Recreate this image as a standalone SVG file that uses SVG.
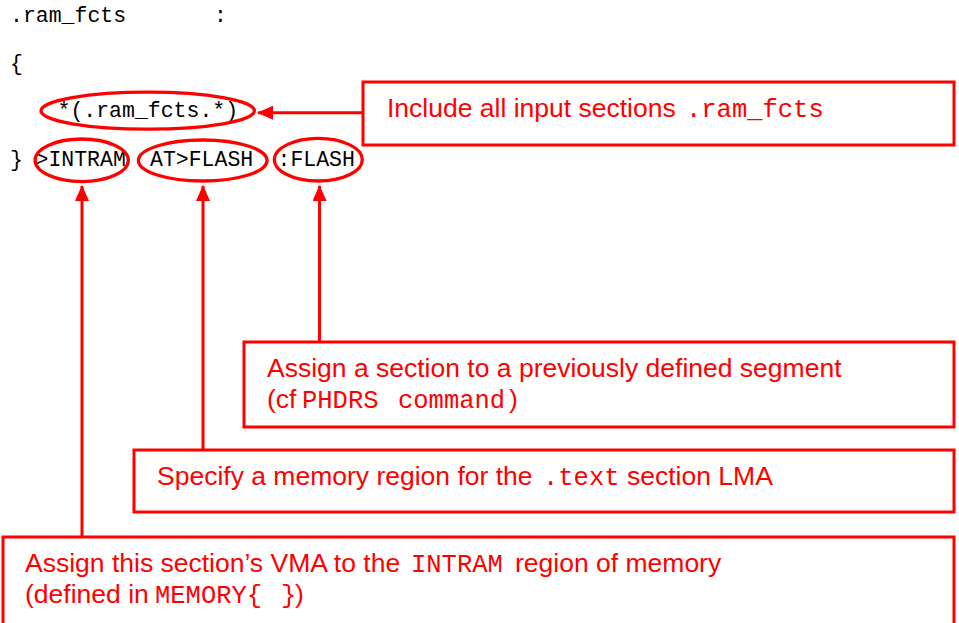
<svg xmlns="http://www.w3.org/2000/svg" width="959" height="623" viewBox="0 0 959 623">
<defs>
<style>
.code{font-family:"Liberation Mono","Courier New",monospace;font-size:21.5px;fill:#000}
.lbl{font-family:"Liberation Sans",Arial,sans-serif;font-size:26.5px;fill:#ff0000}
.mono{font-family:"Liberation Mono","Courier New",monospace;font-size:25.5px;fill:#ff0000}
.box{fill:none;stroke:#ff0000;stroke-width:3}
.ell{fill:none;stroke:#ff0000;stroke-width:3.3}
.conn{fill:none;stroke:#ff0000;stroke-width:3}
</style>
<marker id="ah" viewBox="0 0 16 14" refX="15" refY="7" markerWidth="16" markerHeight="14" markerUnits="userSpaceOnUse" orient="auto">
<path d="M0,0 L16,7 L0,14 Z" fill="#ff0000"/>
</marker>
</defs>
<rect width="959" height="623" fill="#ffffff"/>

<g id="code">
<text class="code" x="10" y="22">.ram_fcts</text>
<text class="code" x="214" y="22">:</text>
<text class="code" x="10" y="70">{</text>
<text class="code" x="57.5" y="117">*(.ram_fcts.*)</text>
<text class="code" x="10" y="166">}</text>
<text class="code" x="35.5" y="166">&gt;INTRAM</text>
<text class="code" x="150" y="166">AT&gt;FLASH</text>
<text class="code" x="277.5" y="166">:FLASH</text>
</g>

<g id="ellipses">
<ellipse id="e-input" class="ell" cx="147.7" cy="110.7" rx="106.7" ry="18.5"/>
<ellipse id="e-intram" class="ell" cx="81.7" cy="160.3" rx="46.6" ry="21.3"/>
<ellipse id="e-atflash" class="ell" cx="202.7" cy="160.5" rx="64.3" ry="20.5"/>
<ellipse id="e-flash" class="ell" cx="318.3" cy="159.7" rx="44" ry="21.3"/>
</g>

<g id="connectors">
<line class="conn" x1="363" y1="112.7" x2="258" y2="112.7" marker-end="url(#ah)"/>
<line class="conn" x1="82" y1="537" x2="82" y2="186" marker-end="url(#ah)"/>
<line class="conn" x1="203" y1="450" x2="203" y2="186" marker-end="url(#ah)"/>
<line class="conn" x1="319.5" y1="342" x2="319.5" y2="186" marker-end="url(#ah)"/>
</g>

<g id="box-include">
<rect class="box" x="363" y="82" width="591" height="63"/>
<text class="lbl" x="387" y="117">Include all input sections</text>
<text class="mono" x="686" y="117">.ram_fcts</text>
</g>

<g id="box-segment">
<rect class="box" x="244" y="342" width="710" height="85"/>
<text class="lbl" x="267" y="377">Assign a section to a previously defined segment</text>
<text class="lbl" x="267" y="408">(cf</text>
<text class="mono" x="302" y="408">PHDRS</text>
<text class="mono" x="398" y="408">command</text>
<text class="lbl" x="509" y="408">)</text>
</g>

<g id="box-lma">
<rect class="box" x="134" y="450" width="820" height="62"/>
<text class="lbl" x="157" y="485">Specify a memory region for the</text>
<text class="mono" x="543" y="485">.text</text>
<text class="lbl" x="627" y="485">section LMA</text>
</g>

<g id="box-vma">
<rect class="box" x="3" y="537" width="951" height="100"/>
<text class="lbl" x="25" y="572">Assign this section’s VMA to the</text>
<text class="mono" x="411" y="572">INTRAM</text>
<text class="lbl" x="515" y="572">region of memory</text>
<text class="lbl" x="25" y="603">(defined in</text>
<text class="mono" x="155" y="603">MEMORY{</text>
<text class="mono" x="281" y="603">}</text>
<text class="lbl" x="295" y="603">)</text>
</g>
</svg>
